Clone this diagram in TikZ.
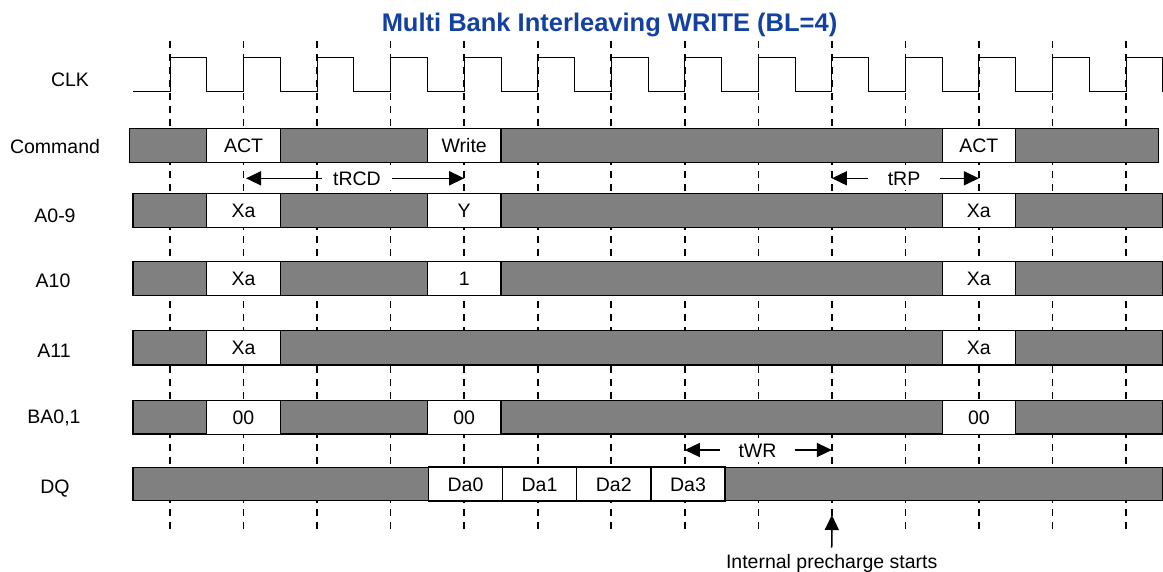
\documentclass[tikz,border=0pt]{standalone}
\usepackage{fontspec}
\setmainfont{Liberation Sans}
\usetikzlibrary{arrows.meta}
\definecolor{titleblue}{RGB}{20,65,160}
\definecolor{bargray}{RGB}{128,128,128}

\begin{document}
\begin{tikzpicture}[x=1pt,y=-1pt]
\tikzstyle{every node}+=[inner sep=0pt,font=\fontsize{19.5}{23}\selectfont,text height=14pt,text depth=0pt]
\tikzstyle{tickline}=[black,line width=1.6pt,dash pattern=on 7pt off 6pt]
\tikzstyle{sigbar}=[draw=black,fill=bargray,line width=1.2pt]
\tikzstyle{cellbox}=[draw=black,fill=white,line width=1.2pt,minimum width=73.5pt,minimum height=34pt]
\tikzstyle{spanlbl}=[fill=white,inner xsep=11pt,inner ysep=5pt]
\tikzstyle{dimarrow}=[black,line width=1.5pt,-{Triangle[length=15pt,width=14pt]}]
\useasboundingbox (0,0) rectangle (1163,571);
\draw (609.5,31.7) node [anchor=base,font=\fontsize{25.5}{30}\selectfont\bfseries,text=titleblue] (title) {Multi Bank Interleaving WRITE (BL=4)};
\draw [black,line width=1pt] (133,91.7) -| (170,57.3) -| (206.8,91.7) -| (243.5,57.3) -| (280.3,91.7) -| (317.1,57.3) -| (353.9,91.7) -| (390.6,57.3) -| (427.4,91.7) -| (464.2,57.3) -| (501,91.7) -| (537.7,57.3) -| (574.5,91.7) -| (611.2,57.3) -| (648,91.7) -| (684.8,57.3) -| (721.6,91.7) -| (758.3,57.3) -| (795.1,91.7) -| (831.9,57.3) -| (868.7,91.7) -| (905.4,57.3) -| (942.2,91.7) -| (978.9,57.3) -| (1015.7,91.7) -| (1052.5,57.3) -| (1089.3,91.7) -| (1126,57.3) -| (1162.3,91.7);
\draw [tickline] (170,41) -- (170,533);
\draw [tickline] (243.5,41) -- (243.5,533);
\draw [tickline] (317.1,41) -- (317.1,533);
\draw [tickline] (390.6,41) -- (390.6,533);
\draw [tickline] (464.2,41) -- (464.2,533);
\draw [tickline] (537.7,41) -- (537.7,533);
\draw [tickline] (611.2,41) -- (611.2,533);
\draw [tickline] (684.8,41) -- (684.8,533);
\draw [tickline] (758.3,41) -- (758.3,533);
\draw [tickline] (831.9,41) -- (831.9,533);
\draw [tickline] (905.4,41) -- (905.4,533);
\draw [tickline] (978.9,41) -- (978.9,533);
\draw [tickline] (1052.5,41) -- (1052.5,533);
\draw [tickline] (1126,41) -- (1126,533);
\draw (70,79.2) node (lclk) {CLK};
\draw (55,146.7) node (lcmd) {Command};
\draw (55,215) node (la09) {A0-9};
\draw (53,280.5) node (la10) {A10};
\draw (54,350) node (la11) {A11};
\draw (54,416.7) node (lba) {BA0,1};
\draw (55,486.7) node (ldq) {DQ};
\draw [sigbar] (129.3,128.3) rectangle (1158.3,162.3);
\draw [sigbar] (133,193.3) rectangle (1162.3,227.3);
\draw [sigbar] (133,261.7) rectangle (1162.3,295.7);
\draw [sigbar] (133,330.7) rectangle (1162.3,365);
\draw [sigbar] (133,400.7) rectangle (1162.3,434);
\draw [sigbar] (133,467.3) rectangle (1162.3,500.7);
\node [cellbox] (act0) at (243.5,145.3) {ACT};
\node [cellbox] (wr) at (464.2,145.3) {Write};
\node [cellbox] (act1) at (978.9,145.3) {ACT};
\node [cellbox] (ra0) at (243.5,210.3) {Xa};
\node [cellbox] (ca) at (464.2,210.3) {Y};
\node [cellbox] (ra1) at (978.9,210.3) {Xa};
\node [cellbox] (ap0) at (243.5,278.7) {Xa};
\node [cellbox] (ap) at (464.2,278.7) {1};
\node [cellbox] (ap1) at (978.9,278.7) {Xa};
\node [cellbox] (rb0) at (243.5,347.8) {Xa};
\node [cellbox] (rb1) at (978.9,347.8) {Xa};
\node [cellbox] (bk0) at (243.5,417.3) {00};
\node [cellbox] (bk) at (464.2,417.3) {00};
\node [cellbox] (bk1) at (978.9,417.3) {00};
\node [cellbox,minimum width=74pt] (da0) at (465.5,484) {Da0};
\node [cellbox,minimum width=74pt] (da1) at (539.5,484) {Da1};
\node [cellbox,minimum width=74pt] (da2) at (613.8,484) {Da2};
\node [cellbox,minimum width=74pt] (da3) at (688,484) {Da3};
\draw (357,178.3) node [spanlbl] (trcd) {tRCD};
\coordinate (rcd0) at (246,178.3);
\coordinate (rcd1) at (464.2,178.3);
\draw [dimarrow] (trcd.west) -- (rcd0);
\draw [dimarrow] (trcd.east) -- (rcd1);
\draw (904,178.3) node [spanlbl,inner xsep=20pt] (trp) {tRP};
\coordinate (rp0) at (831.9,178.3);
\coordinate (rp1) at (978.9,178.3);
\draw [dimarrow] (trp.west) -- (rp0);
\draw [dimarrow] (trp.east) -- (rp1);
\draw (757.5,450) node [spanlbl,inner xsep=18pt] (twr) {tWR};
\coordinate (wr0) at (684.8,450);
\coordinate (wr1) at (831.9,450);
\draw [dimarrow] (twr.west) -- (wr0);
\draw [dimarrow] (twr.east) -- (wr1);
\draw (831.7,561.7) node (ipc) {Internal precharge starts};
\coordinate (ipt) at (831.9,515);
\draw [dimarrow,shorten <=7pt] (ipc.north) -- (ipt);
\end{tikzpicture}
\end{document}
